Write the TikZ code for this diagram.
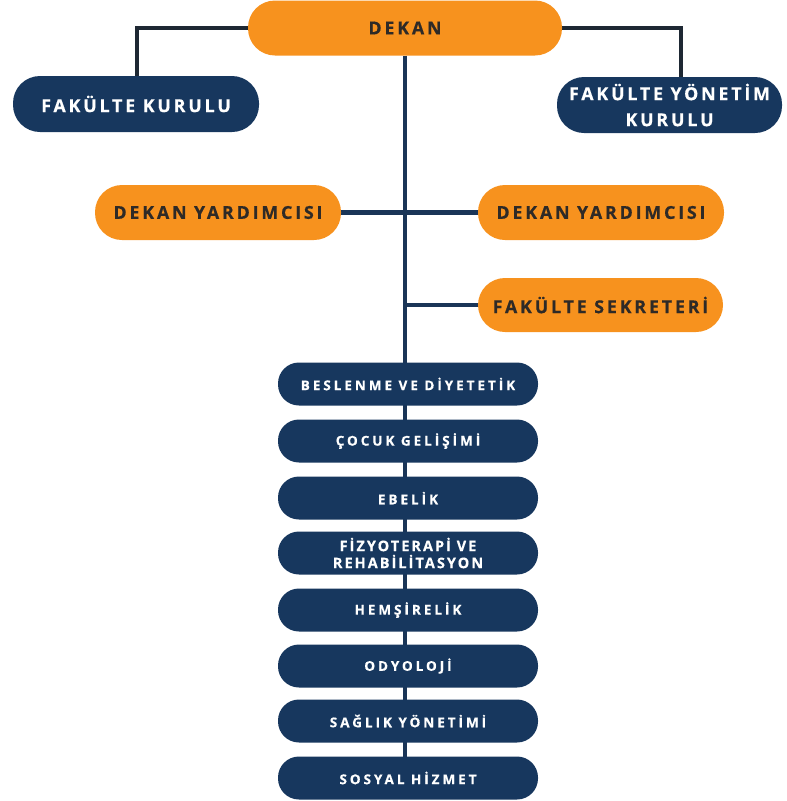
\documentclass[tikz,border=0pt]{standalone}
\usepackage{fontspec}
\setmainfont{Open Sans}
\newfontfamily\lbl{Open Sans}[LetterSpace=16, BoldFeatures={FakeBold=0.5}]
\newfontfamily\lbld{Open Sans}[LetterSpace=22, BoldFeatures={FakeBold=0.5}]
\newfontfamily\lbldn{Open Sans}[LetterSpace=14, BoldFeatures={FakeBold=0.5}]
\usetikzlibrary{backgrounds}
\definecolor{orng}{HTML}{F7921E}
\definecolor{navy}{HTML}{17375E}
\definecolor{dtext}{HTML}{2E2A27}
\definecolor{topline}{HTML}{1E2833}
\definecolor{trunk}{HTML}{1A3557}
\tikzset{
  orangebox/.style={rectangle, rounded corners=27pt, fill=orng, text=dtext,
    font=\lbl\bfseries\fontsize{17.8}{20}\selectfont, inner sep=0pt, align=center,
    minimum height=55pt},
  navybox/.style={rectangle, rounded corners=27pt, fill=navy, text=white,
    font=\lbl\bfseries\fontsize{17.8}{26}\selectfont, inner sep=0pt, align=center,
    minimum height=56pt},
  deptbox/.style={rectangle, rounded corners=21pt, fill=navy, text=white,
    font=\lbld\bfseries\fontsize{13.5}{15}\selectfont, inner sep=0pt, align=center,
    minimum width=260pt, minimum height=43pt},
  topconn/.style={draw=topline, line width=4.6pt},
  trunkconn/.style={draw=trunk, line width=4.4pt},
}
\begin{document}
\begin{tikzpicture}[x=1pt,y=-1pt]
\useasboundingbox (0,0) rectangle (787,801);
\node[orangebox, minimum width=314pt] (dekan) at (405,28) {DEKAN};
\node[navybox, minimum width=246pt] (fk) at (136,104) {FAKÜLTE KURULU};
\node[navybox, minimum width=225pt] (fyk) at (669.5,105) {FAKÜLTE YÖNETİM\\KURULU};
\node[orangebox, minimum width=246pt] (dy1) at (218,212.5) {DEKAN YARDIMCISI};
\node[orangebox, minimum width=246pt] (dy2) at (601,212.5) {DEKAN YARDIMCISI};
\node[orangebox, minimum width=245pt, minimum height=54pt] (fs) at (600.5,305) {FAKÜLTE SEKRETERİ};
\node[deptbox] (d1) at (408,384) {BESLENME VE DİYETETİK};
\node[deptbox] (d2) at (408,441) {ÇOCUK GELİŞİMİ};
\node[deptbox] (d3) at (408,498) {EBELİK};
\node[deptbox, font=\lbldn\bfseries\fontsize{14.5}{17}\selectfont] (d4) at (408,553) {FİZYOTERAPİ VE\\REHABİLİTASYON};
\node[deptbox] (d5) at (408,610) {HEMŞİRELİK};
\node[deptbox] (d6) at (408,666) {ODYOLOJİ};
\node[deptbox] (d7) at (408,721) {SAĞLIK YÖNETİMİ};
\node[deptbox] (d8) at (408,778) {SOSYAL HİZMET};
\begin{scope}[on background layer]
\draw[topconn] (dekan.west) -| ([xshift=1pt]fk.north);
\draw[topconn] (dekan.east) -| ([xshift=11.5pt]fyk.north);
\draw[trunkconn] (dekan.south) -- (dekan.south |- d8.center);
\draw[trunkconn] (dy1.east) -- (dy2.west);
\draw[trunkconn] (dekan.south |- fs.west) -- (fs.west);
\end{scope}
\end{tikzpicture}
\end{document}
